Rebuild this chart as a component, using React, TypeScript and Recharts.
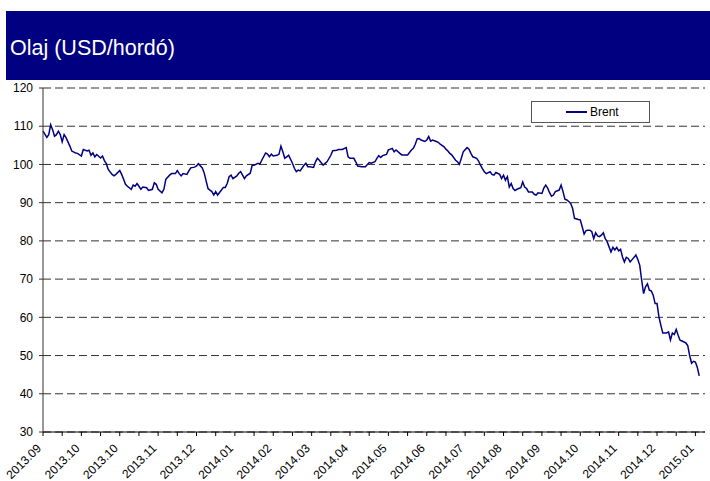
import { CartesianGrid, Line, LineChart, XAxis, YAxis } from 'recharts';

// trading day index since 2013.09.02
const days = [
  0, 2, 3, 4, 5, 6, 7, 8, 9, 10, 11, 12, 14, 15, 17, 18, 20, 21, 23, 24, 25, 26, 27, 28, 30,
  31, 32, 33, 34, 36, 37, 38, 40, 41, 42, 43, 44, 46, 47, 48, 49, 50, 51, 52, 54, 55, 57, 58,
  59, 60, 62, 63, 64, 66, 67, 69, 70, 71, 72, 73, 75, 76, 77, 79, 80, 81, 83, 84, 85, 86, 87,
  88, 89, 90, 91, 93, 94, 95, 96, 97, 98, 99, 101, 102, 103, 104, 105, 106, 108, 109, 110, 112,
  113, 114, 116, 117, 118, 119, 120, 122, 123, 124, 125, 126, 127, 128, 130, 131, 132, 133,
  134, 136, 137, 138, 139, 141, 142, 143, 144, 146, 147, 148, 150, 151, 153, 154, 156, 158,
  159, 160, 162, 163, 164, 166, 167, 168, 170, 171, 173, 174, 175, 176, 177, 179, 180, 181,
  182, 183, 184, 186, 187, 189, 190, 192, 193, 194, 195, 196, 197, 199, 200, 201, 202, 203,
  205, 206, 207, 209, 210, 211, 212, 213, 215, 216, 217, 218, 219, 221, 222, 223, 224, 226,
  227, 228, 229, 230, 231, 233, 234, 235, 236, 238, 239, 240, 241, 242, 243, 244, 245, 246,
  247, 249, 250, 251, 252, 253, 255, 256, 257, 258, 260, 261, 262, 263, 264, 265, 266, 267,
  269, 270, 271, 272, 273, 274, 275, 276, 277, 279, 280, 281, 282, 283, 284, 285, 286, 287,
  288, 289, 290, 291, 292, 293, 294, 296, 297, 298, 299, 300, 301, 302, 303, 304, 305, 306,
  307, 309, 310, 311, 312, 313, 314, 315, 316, 317, 318, 319, 320, 321, 322, 323, 325, 326,
  327, 328, 329, 330, 331, 332, 333, 335, 336, 337, 338, 339, 340, 341, 342,
];

const brent = [
  108.7, 107.1, 107.8, 110.4, 109.1, 107.4, 107.8, 108.7, 107.8, 105.9, 107.8, 107, 104.8,
  103.5, 103, 102.9, 102.2, 103.9, 103.5, 103.7, 102.4, 103, 102, 102.6, 101.7, 102.2, 101,
  100.2, 98.7, 97.4, 97, 97.4, 98.4, 97.4, 96.1, 94.8, 94.3, 93.5, 94.6, 94.3, 95, 94.3, 93.5,
  94.1, 93.9, 93.2, 93.5, 95.2, 94.8, 93.5, 92.6, 93.5, 96.1, 97.2, 97.6, 97.6, 98.4, 97.6, 97,
  97.6, 97.4, 98.3, 99.1, 99.3, 99.6, 100.2, 99.1, 97.8, 95.7, 93.7, 93.3, 92.9, 92, 92.9, 92,
  93.3, 94, 94, 95, 96.8, 97.2, 96.3, 97, 97.7, 98.1, 97.2, 96.3, 97, 97.7, 99.8, 99.8, 100.3,
  100.1, 101.1, 103, 102.7, 102, 102.7, 102.2, 102.4, 102.7, 104.8, 103.3, 101.6, 102, 102.4,
  100.3, 99, 98.1, 98.5, 98.3, 99.8, 100.3, 99.4, 99.4, 99.2, 100.7, 101.6, 101.1, 99.8, 100.3,
  100.7, 102.4, 103.6, 103.7, 103.9, 103.9, 104.4, 102, 101.6, 101.6, 100.7, 99.6, 99.4, 99.4,
  99.4, 100.5, 100.3, 100.7, 101.6, 102.3, 101.8, 102.3, 102.6, 103.8, 104, 104.2, 103.3,
  103.8, 102.9, 102.5, 102.5, 102.5, 103.8, 104.2, 105.3, 106.7, 106.8, 106.4, 106, 106.4,
  107.3, 106.1, 106.4, 106, 105.8, 105.3, 104.6, 104, 103.5, 102.9, 102.5, 101.1, 100.7, 100,
  101.6, 103.3, 104.4, 104, 102.9, 102, 101.6, 100.9, 99.8, 98.9, 98.1, 97.6, 98.1, 97.4, 97.2,
  97.9, 97.4, 96.3, 97.2, 95.9, 96.8, 94.1, 95, 93.7, 93.2, 93.5, 93.9, 95.4, 94.1, 93.7, 92.8,
  92.8, 92.2, 92, 92.6, 92.4, 93.8, 94.6, 93.8, 92.6, 91.7, 92, 92.9, 93.3, 94.6, 92.9, 90.9,
  90.7, 90.3, 89.8, 88.5, 85.9, 85.6, 85.5, 83.7, 81.8, 82.7, 82.8, 82.8, 82.4, 80.6, 82.1,
  81.3, 81.1, 81.5, 82.1, 80.6, 79.8, 77.1, 78.3, 77.6, 78.3, 77.4, 77.8, 75.8, 74.5, 75.7,
  75.4, 74.5, 75.1, 76.3, 75.1, 73.6, 69.7, 66.2, 68, 68.8, 67.1, 66.9, 65.8, 63.6, 63.6, 60.1,
  57.9, 55.9, 55.9, 56.2, 54.1, 55.9, 55.5, 56.8, 55.3, 54, 53.8, 53.3, 52.6, 50, 48, 48.5,
  48.3, 46.9, 44.7,
];

const tickLabels = [
  '2013.09', '2013.10', '2013.10', '2013.11', '2013.12', '2014.01', '2014.02', '2014.03',
  '2014.04', '2014.05', '2014.06', '2014.07', '2014.08', '2014.09', '2014.10', '2014.11',
  '2014.12', '2015.01',
];

const yTicks = [30, 40, 50, 60, 70, 80, 90, 100, 110, 120];

const data = days.map((day, i) => ({ day, brent: brent[i] }));
const xTicks = tickLabels.flatMap((_, i) => [i * 20, i * 20 + 10]).filter((t) => t <= 340);

const FONT = '"Liberation Sans", Arial, sans-serif';

const DateTick = ({ x, y, payload }: any) => {
  const label = payload.value % 20 === 0 ? tickLabels[payload.value / 20] : '';
  const tx = x - 1;
  const ty = y + 11;
  return (
    <text
      x={tx}
      y={ty}
      transform={`rotate(-45 ${tx} ${ty})`}
      textAnchor="end"
      fontSize={12}
      fontFamily={FONT}
      fill="#000"
    >
      {label}
    </text>
  );
};

export default function App() {
  return (
    <div style={{ position: 'absolute', left: 0, top: 0, width: 710, height: 481, background: '#fff' }}>
      <div
        style={{
          position: 'absolute',
          left: 6,
          top: 11,
          width: 704,
          height: 69,
          background: '#000080',
          color: '#fff',
          fontFamily: FONT,
          fontSize: 21.5,
          lineHeight: '20px',
          paddingTop: 27,
          paddingLeft: 4,
          boxSizing: 'border-box',
        }}
      >
        Olaj (USD/hordó)
      </div>
      <LineChart width={710} height={481} data={data} margin={{ top: 88, right: 5, bottom: 0, left: 0 }}>
        <CartesianGrid vertical={false} stroke="#333" strokeDasharray="8 4" />
        <XAxis
          dataKey="day"
          type="number"
          domain={[0, 345]}
          ticks={xTicks}
          interval={0}
          height={49}
          tickSize={4}
          tickMargin={2}
          stroke="#000"
          tick={<DateTick />}
        />
        <YAxis
          domain={[30, 120]}
          ticks={yTicks}
          interval={0}
          width={43}
          tickSize={4}
          tickMargin={6}
          stroke="#333"
          tick={{ fill: '#000', fontSize: 12, fontFamily: FONT }}
        />
        <Line
          type="linear"
          dataKey="brent"
          name="Brent"
          stroke="#000080"
          strokeWidth={1.5}
          dot={false}
          isAnimationActive={false}
        />
      </LineChart>
      <div
        style={{
          position: 'absolute',
          left: 531,
          top: 101,
          width: 119,
          height: 22,
          boxSizing: 'border-box',
          border: '1px solid #555',
          background: '#fff',
          display: 'flex',
          alignItems: 'center',
          fontFamily: FONT,
          fontSize: 12,
        }}
      >
        <span style={{ width: 21, height: 2, background: '#000080', marginLeft: 34, marginRight: 3 }} />
        <span>Brent</span>
      </div>
    </div>
  );
}
